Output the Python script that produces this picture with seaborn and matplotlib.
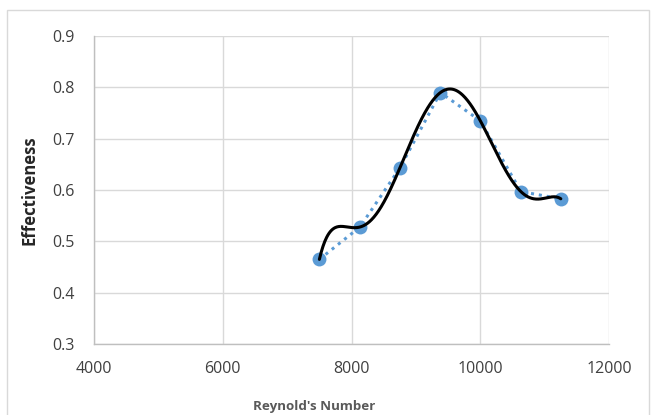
import numpy as np
import pandas as pd
import seaborn as sns
import matplotlib.pyplot as plt
from matplotlib.patches import Rectangle

# data
reynolds = [7500, 8130, 8750, 9380, 10000, 10630, 11250]
effectiveness = [0.465, 0.528, 0.643, 0.790, 0.735, 0.597, 0.583]

df = pd.DataFrame({"Re": reynolds, "Eff": effectiveness})

# 6th order polynomial trendline (like Excel)
coef = np.polyfit(df["Re"], df["Eff"], 6)
xs = np.linspace(min(reynolds), max(reynolds), 400)
trend = pd.DataFrame({"Re": xs, "Eff": np.polyval(coef, xs)})

sns.set_theme(style="whitegrid")
plt.rcParams["font.family"] = ["Open Sans", "DejaVu Sans"]

fig = plt.figure(figsize=(6.57, 4.15), dpi=100)
ax = fig.add_axes([0.1431, 0.171, 0.784, 0.742])

blue = "#5B9BD5"
sns.lineplot(data=df, x="Re", y="Eff", ax=ax, color=blue, linestyle=(0, (1, 1.6)),
             linewidth=2.2, marker="o", markersize=10, markeredgewidth=0, zorder=3)
sns.lineplot(data=trend, x="Re", y="Eff", ax=ax, color="black", linewidth=2.2, zorder=4)

ax.set_xlim(4000, 12000)
ax.set_ylim(0.3, 0.9)
ax.set_xticks(range(4000, 12001, 2000))
ax.set_yticks(np.arange(0.3, 0.91, 0.1))
ax.set_yticklabels([f"{v:.1f}" for v in np.arange(0.3, 0.91, 0.1)])

ax.grid(True, color="#D9D9D9", linewidth=1)
for side in ["top", "right"]:
    ax.spines[side].set_visible(False)
for side in ["left", "bottom"]:
    ax.spines[side].set_color("#BFBFBF")
    ax.spines[side].set_linewidth(1)

ax.tick_params(axis="both", labelsize=11.5, colors="#404040", length=0)
ax.tick_params(axis="y", pad=14)
ax.tick_params(axis="x", pad=12)
ax.set_xlabel("Reynold's Number", fontsize=9.6, fontweight="bold", color="#595959",
              labelpad=17, x=0.427)
ax.set_ylabel("Effectiveness", fontsize=12, fontweight="bold", color="#262626", labelpad=10)

fig.patches.append(Rectangle((0.0107, -0.05), 0.977, 1.026, transform=fig.transFigure,
                             fill=False, edgecolor="#D9D9D9", linewidth=1))

fig.savefig("out.png", dpi=100)
